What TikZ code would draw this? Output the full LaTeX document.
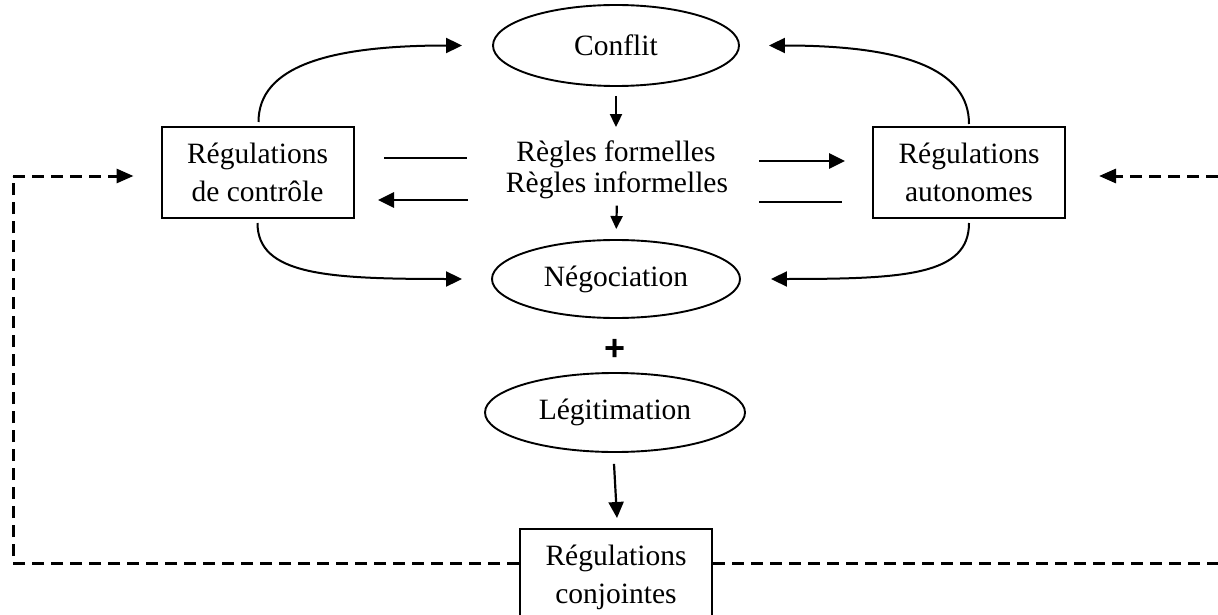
\documentclass[tikz,border=0pt]{standalone}
\usepackage{fontspec}
\setmainfont{Liberation Serif}
\setsansfont{Liberation Sans}
\usetikzlibrary{shapes.geometric,arrows.meta,calc}
\begin{document}
\begin{tikzpicture}[x=1pt,y=-1pt,
  every node/.style={font=\fontsize{29.5}{38}\selectfont},
  ell/.style={draw, ellipse, line width=1.9pt, inner sep=0pt},
  regbox/.style={draw, rectangle, line width=2pt, minimum width=192pt, minimum height=91pt, align=center, inner sep=0pt},
  lbl/.style={anchor=base, inner sep=0pt},
  plainline/.style={line width=1.9pt},
  arr/.style={line width=2.8pt, -{Triangle[length=16pt,width=15pt]}},
  curv/.style={line width=2pt, -{Triangle[length=16pt,width=15pt]}},
  smallarr/.style={line width=2.2pt, -{Triangle[length=13pt,width=12pt]}},
  dsh/.style={line width=3pt, dash pattern=on 12pt off 7pt},
]
\useasboundingbox (0,0) rectangle (1218,615);
% nodes
\node[ell, minimum width=246pt, minimum height=81pt] (conflit) at (616,45.5) {Conflit};
\node[ell, minimum width=248pt, minimum height=78pt] (neg) at (616,279) {Négociation};
\node[ell, minimum width=260pt, minimum height=79pt] (legit) at (615,412.5) {Légitimation};
\node[regbox] (ctrl) at (257.5,172.5) {Régulations\\de contrôle};
\node[regbox] (auto) at (969,172.5) {Régulations\\autonomes};
\node[regbox] (conj) at (616,574.5) {Régulations\\\raisebox{0pt}[\height][0pt]{conjointes}};
\node[lbl] (rf) at (616,161) {Règles formelles};
\node[lbl] (ri) at (617,192) {Règles informelles};
\node[font=\fontsize{36}{36}\selectfont\sffamily\bfseries, inner sep=0pt] (plus) at (615,350) {+};
% curved arrows
\coordinate (ctin) at ($(conflit.west)+(-30,0)$);
\coordinate (crin) at ($(conflit.east)+(29,0)$);
\coordinate (ntin) at ($(neg.west)+(-29,0)$);
\coordinate (nrin) at ($(neg.east)+(30,0)$);
\draw[curv] ($(ctrl.north)+(1,-4)$) .. controls +(0,-55) and +(-135,0) .. (ctin);
\draw[curv] ($(ctrl.south)+(0,4)$) .. controls +(0,52) and +(-135,0) .. (ntin);
\draw[curv] ($(auto.north)+(0,-2)$) .. controls +(0,-55) and +(135,0) .. (crin);
\draw[curv] ($(auto.south)+(0,4)$) .. controls +(0,52) and +(135,0) .. (nrin);
% vertical small arrows
\draw[smallarr, shorten <=9pt, shorten >=13pt] (conflit.south) -- (rf.north);
\draw[smallarr, shorten <=7pt, shorten >=10pt] (ri.south) -- (neg.north);
\draw[arr, line width=2.2pt] ($(legit.south)+(-1,11)$) -- ($(conj.north)+(1,-10)$);
% middle lines
\coordinate (l1a) at (384,158); \coordinate (l1b) at (467,158);
\coordinate (l2a) at (468,200); \coordinate (l2b) at (378,200);
\coordinate (r1a) at (759,161); \coordinate (r1b) at (845,161);
\coordinate (r2a) at (759,202); \coordinate (r2b) at (842,202);
\draw[plainline] (l1a) -- (l1b);
\draw[arr] (l2a) -- (l2b);
\draw[arr] (r1a) -- (r1b);
\draw[plainline] (r2a) -- (r2b);
% dashed feedback
\coordinate (dl) at (13,563);
\coordinate (dlt) at (13,176);
\coordinate (dla) at ($(ctrl.west |- dlt)+(-27,0)$);
\coordinate (dr) at (1218,563);
\coordinate (drt) at (1218,176);
\coordinate (dra) at ($(auto.east |- drt)+(33,0)$);
\draw[dsh] (conj.west |- dl) -- (dl) -- (dlt);
\draw[dsh, -{Triangle[length=17pt,width=14pt]}] (dlt) -- (dla);
\draw[dsh] (conj.east |- dl) -- (dr);
\draw[dsh, -{Triangle[length=17pt,width=14pt]}] (drt) -- (dra);
\end{tikzpicture}
\end{document}
